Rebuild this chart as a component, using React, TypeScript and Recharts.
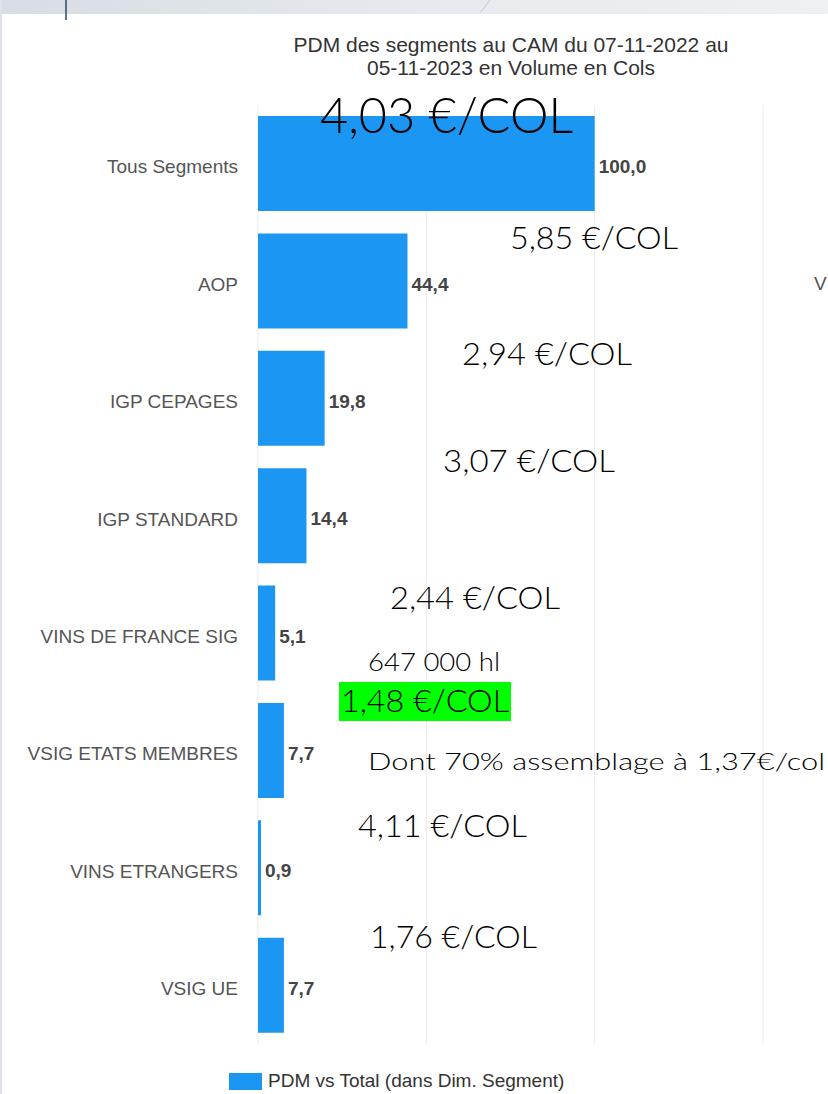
import React from 'react';
import { BarChart, Bar, XAxis, YAxis, CartesianGrid, LabelList, Legend } from 'recharts';

const categories = [
  'Tous Segments',
  'AOP',
  'IGP CEPAGES',
  'IGP STANDARD',
  'VINS DE FRANCE SIG',
  'VSIG ETATS MEMBRES',
  'VINS ETRANGERS',
  'VSIG UE',
];
const pdmValues = [100, 44.4, 19.8, 14.4, 5.1, 7.7, 0.9, 7.7];
const xTicks = [0, 50, 100, 150];
const seriesName = 'PDM vs Total (dans Dim. Segment)';
const titleLines = ['PDM des segments au CAM du 07-11-2022 au', '05-11-2023 en Volume en Cols'];
const noteTexts = [
  '4,03 €/COL',
  '5,85 €/COL',
  '2,94 €/COL',
  '3,07 €/COL',
  '2,44 €/COL',
  '647 000 hl',
  '1,48 €/COL',
  'Dont 70% assemblage à 1,37€/col',
  '4,11 €/COL',
  '1,76 €/COL',
];

// layout of the overlaid annotations (position / size only)
const noteLayout = [
  { x: 320, y: 133, w: 253, fs: 50 },
  { x: 510, y: 249, w: 168, fs: 31 },
  { x: 462, y: 365, w: 170, fs: 31 },
  { x: 443, y: 472, w: 172, fs: 31 },
  { x: 390, y: 609, w: 170, fs: 31 },
  { x: 368, y: 671, w: 132, fs: 26 },
  { x: 341, y: 712, w: 168, fs: 31, hl: { x: 339, y: 682, w: 172, h: 39 } },
  { x: 368, y: 770, w: 457, fs: 24 },
  { x: 358, y: 837, w: 169, fs: 31 },
  { x: 370, y: 948, w: 167, fs: 31 },
];

const data = categories.map((c, i) => ({ segment: c, pdm: pdmValues[i] }));

const BAR_COLOR = '#1b96f3';
const FONT = '"Liberation Sans", Arial, sans-serif';
const NOTE_FONT = 'Lato, "Open Sans", sans-serif';

const fmt = (v: any) => Number(v).toFixed(1).replace('.', ',');

const LegendContent = () => (
  <div style={{ display: 'flex', alignItems: 'center', fontFamily: FONT, fontSize: 19, color: '#333', whiteSpace: 'nowrap' }}>
    <span style={{ display: 'inline-block', width: 33, height: 17, background: BAR_COLOR, marginRight: 6 }} />
    <span>{seriesName}</span>
  </div>
);

export default function App() {
  return (
    <div style={{ position: 'absolute', left: 0, top: 0, width: 828, height: 1094, background: '#fff', overflow: 'hidden' }}>
      <div style={{ position: 'absolute', left: 0, top: 0, width: 828, height: 14, background: 'linear-gradient(90deg, #d7dde3 0%, #e6eaee 50%, #eef1f3 100%)' }} />
      <div style={{ position: 'absolute', left: 0, top: 0, width: 2, height: 1094, background: '#dde3e8' }} />
      <svg width={828} height={24} style={{ position: 'absolute', left: 0, top: 0 }}>
        <line x1={66} y1={0} x2={66} y2={20} stroke="#2b4a66" strokeWidth={1.5} />
        <line x1={490} y1={0} x2={480} y2={13} stroke="#b9c6d1" strokeWidth={1} />
      </svg>
      <div style={{ position: 'absolute', left: 0, top: 0 }}>
        <BarChart
          width={828}
          height={1094}
          data={data}
          layout="vertical"
          margin={{ top: 105, right: 65, bottom: 50, left: 0 }}
        >
          <CartesianGrid horizontal={false} vertical={true} stroke="#ebebeb" />
          <XAxis type="number" domain={[0, 150]} ticks={xTicks} hide />
          <YAxis
            type="category"
            dataKey="segment"
            width={258}
            axisLine={false}
            tickLine={false}
            tickSize={0}
            tickMargin={20}
            tick={{ fill: '#555', fontSize: 19, fontFamily: FONT, dy: 3 }}
          />
          <Bar dataKey="pdm" name={seriesName} fill={BAR_COLOR} barSize={95} isAnimationActive={false}>
            <LabelList
              dataKey="pdm"
              position="right"
              offset={4}
              dy={3}
              formatter={fmt}
              style={{ fill: '#444', fontSize: 19, fontWeight: 'bold', fontFamily: FONT }}
            />
          </Bar>
          <Legend
            layout="horizontal"
            verticalAlign="middle"
            align="center"
            content={LegendContent}
            wrapperStyle={{ left: 229, top: 1070, width: 'auto', height: 'auto' }}
          />
        </BarChart>
      </div>
      <svg width={828} height={1094} style={{ position: 'absolute', left: 0, top: 0, pointerEvents: 'none' }}>
        <text x={511} y={52} textAnchor="middle" fontFamily={FONT} fontSize={21} fill="#333">{titleLines[0]}</text>
        <text x={511} y={75} textAnchor="middle" fontFamily={FONT} fontSize={21} fill="#333">{titleLines[1]}</text>
        <text x={814} y={290} fontFamily={FONT} fontSize={19} fill="#555">V</text>
        {noteTexts.map((t, i) => {
          const l = noteLayout[i];
          return (
            <g key={i}>
              {l.hl && <rect x={l.hl.x} y={l.hl.y} width={l.hl.w} height={l.hl.h} fill="#00ff00" />}
              <text x={l.x} y={l.y} fontFamily={NOTE_FONT} fontWeight={300} fontSize={l.fs} fill="#000" textLength={l.w} lengthAdjust="spacingAndGlyphs">
                {t}
              </text>
            </g>
          );
        })}
      </svg>
    </div>
  );
}
